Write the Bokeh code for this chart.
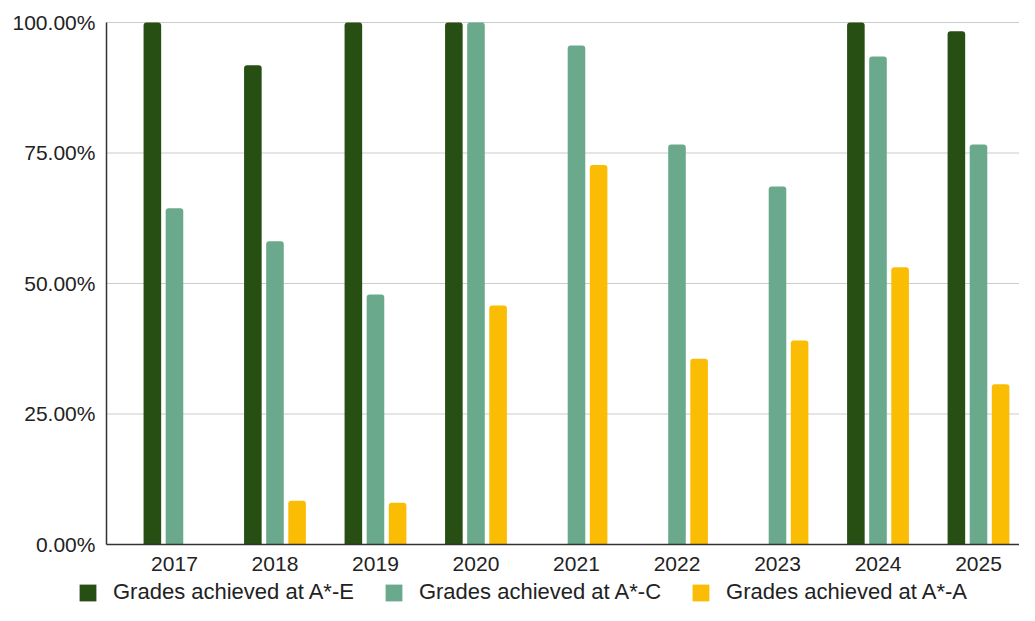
from bokeh.plotting import figure
from bokeh.models import (Range1d, FixedTicker, PrintfTickFormatter, Legend,
                          LegendItem, ColumnDataSource)
from bokeh.transform import dodge
from bokeh.embed import file_html
from bokeh.resources import INLINE

years = ["2017", "2018", "2019", "2020", "2021", "2022", "2023", "2024", "2025"]
grades_a_star_e = [100.0, 91.8, 100.0, 100.0, 0.0, 0.0, 0.0, 100.0, 98.3]
grades_a_star_c = [64.4, 58.1, 47.9, 100.0, 95.6, 76.6, 68.6, 93.5, 76.6]
grades_a_star_a = [0.0, 8.4, 8.0, 45.8, 72.7, 35.6, 39.1, 53.1, 30.7]
series_labels = ["Grades achieved at A*-E", "Grades achieved at A*-C", "Grades achieved at A*-A"]
y_ticks = [0, 25, 50, 75, 100]
grid_ticks = [25, 50, 75, 100]

colors = ["#274e13", "#6aa98b", "#fbbc04"]
FONT = "Liberation Sans"
TXT = "#222222"

X_START, X_END = -1.731, 8.408
AXIS_X = -0.677
Y_START, Y_END = -11.69, 104.21

xs = list(range(len(years)))
src = ColumnDataSource(dict(x=xs, e=grades_a_star_e, c=grades_a_star_c, a=grades_a_star_a))

p = figure(width=1019, height=605, output_backend="svg", toolbar_location=None,
           x_range=Range1d(X_START, X_END), y_range=Range1d(Y_START, Y_END),
           min_border=0, min_border_left=0, min_border_right=0, min_border_top=0,
           min_border_bottom=0)
p.outline_line_color = None
p.background_fill_color = "white"
p.xgrid.visible = False
p.ygrid.visible = False

# horizontal grid lines at the y ticks, limited to the plot area right of the y axis
p.segment(x0=AXIS_X, x1=X_END, y0=grid_ticks, y1=grid_ticks, line_color="#cccccc", line_width=1.2)

renderers = []
for field, off, col in zip(["e", "c", "a"], [-0.22, 0.0, 0.22], colors):
    r = p.vbar(x=dodge("x", off, range=p.x_range), top=field, bottom=0, width=0.175,
               source=src, fill_color=col, line_color=None, border_radius=(3, 3, 0, 0))
    renderers.append(r)

p.yaxis.ticker = FixedTicker(ticks=y_ticks)
p.yaxis.formatter = PrintfTickFormatter(format="%.2f%%")
p.yaxis.fixed_location = AXIS_X
p.yaxis.bounds = (0, 100)
p.xaxis.ticker = FixedTicker(ticks=xs)
p.xaxis.major_label_overrides = {i: y for i, y in zip(xs, years)}
p.xaxis.fixed_location = 0
p.xaxis.bounds = (AXIS_X, X_END)

for ax in (p.xaxis, p.yaxis):
    ax.major_tick_line_color = None
    ax.minor_tick_line_color = None
    ax.major_tick_out = 0
    ax.major_tick_in = 0
    ax.axis_line_color = "#333333"
    ax.axis_line_width = 1.5
    ax.major_label_text_font = FONT
    ax.major_label_text_font_size = "21px"
    ax.major_label_text_color = TXT
p.yaxis.major_label_standoff = 11
p.xaxis.major_label_standoff = 13

legend = Legend(items=[LegendItem(label=l, renderers=[r]) for l, r in zip(series_labels, renderers)],
                orientation="horizontal", location=(77, 0),
                glyph_width=21, glyph_height=21, label_standoff=15, spacing=29,
                padding=0, margin=0, border_line_color=None, background_fill_alpha=0,
                label_text_font=FONT, label_text_font_size="22px", label_text_color=TXT,
                label_height=21)
p.add_layout(legend, "center")

open("out.html", "w").write(file_html(p, INLINE))
